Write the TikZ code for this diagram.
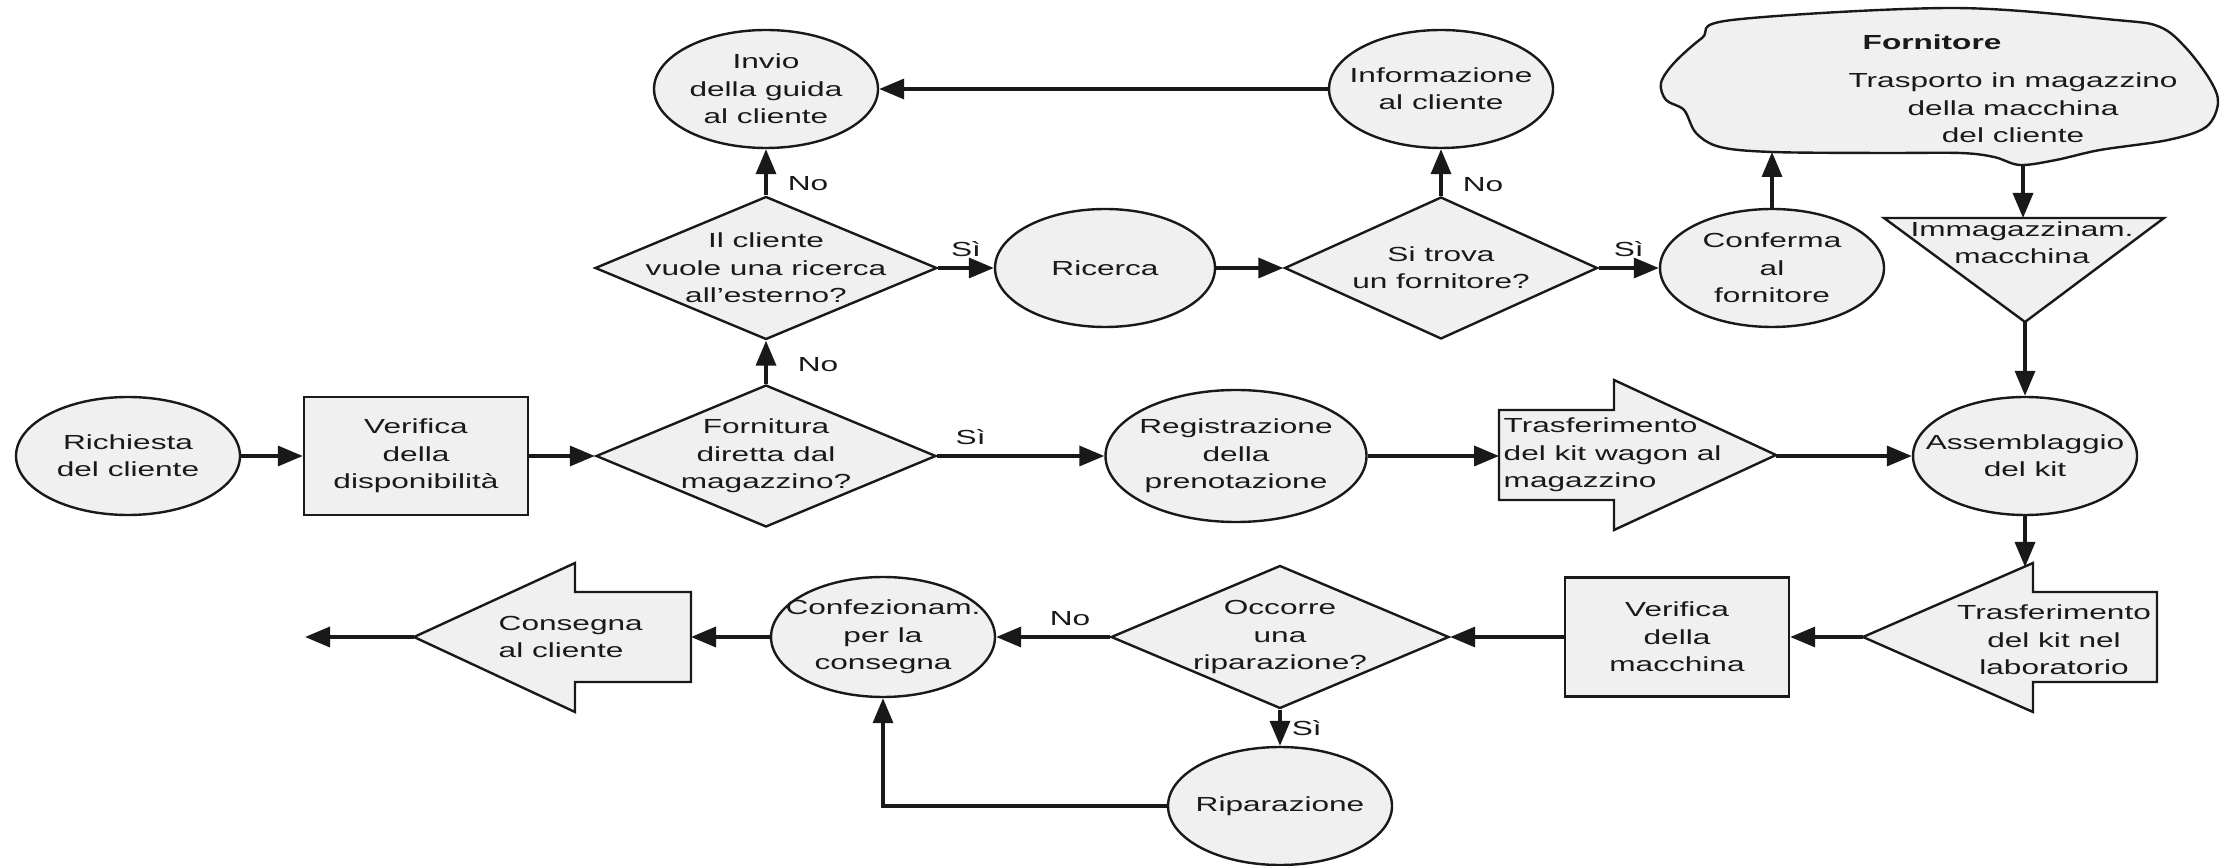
\documentclass[tikz,border=0pt]{standalone}
\usepackage{fontspec}
\setmainfont{Liberation Sans}[FakeStretch=1.55]
\usepackage{tikz}
\usetikzlibrary{arrows.meta, shapes.geometric}
\definecolor{shade}{RGB}{240,240,240}
\definecolor{ink}{RGB}{25,25,25}

\begin{document}
\begin{tikzpicture}[x=0.1mm, y=-0.1mm,
  txt/.style={font=\fontsize{5.8}{7.8}\selectfont, text=ink, align=center},
  every label/.style={txt},
  oval/.style={draw=ink, fill=shade, line width=0.24mm, ellipse, inner sep=0,
               minimum width=22.4mm, minimum height=11.8mm},
  box/.style={draw=ink, fill=shade, line width=0.24mm, rectangle, inner sep=0,
              minimum width=22.4mm, minimum height=11.8mm},
  test/.style={draw=ink, fill=shade, line width=0.24mm, diamond, inner sep=0,
               minimum width=34mm, minimum height=14.2mm},
  outline/.style={draw=ink, fill=shade, line width=0.24mm, line join=miter},
  arr/.style={-{Triangle[length=2.5mm, width=2mm]}, line width=0.35mm, draw=ink},
  lbl/.style={txt, inner sep=1mm}]
  \useasboundingbox (0,0) rectangle (2227,866);

  % middle row: request and check
  \node[oval, label=center:{Richiesta\\del cliente}] (req) at (128,456) {};
  \node[box, label=center:{Verifica\\della\\disponibilità}] (chk) at (416,456) {};
  \node[test, label=center:{Fornitura\\diretta dal\\magazzino?}] (dir) at (766,456) {};
  \node[oval, minimum width=26.1mm, minimum height=13.2mm,
        label=center:{Registrazione\\della\\prenotazione}] (reg) at (1236,456) {};
  \node[oval, label=center:{Assemblaggio\\del kit}] (asm) at (2025,456) {};

  % top rows: outside search
  \node[test, minimum width=34.2mm, minimum height=14.3mm,
        label=center:{Il cliente\\vuole una ricerca\\all’esterno?}] (ask) at (766,268) {};
  \node[oval, label=center:{Invio\\della guida\\al cliente}] (inv) at (766,89) {};
  \node[oval, minimum width=22mm, label=center:{Ricerca}] (ric) at (1105,268) {};
  \node[test, minimum width=31.3mm, label=center:{Si trova\\un fornitore?}] (find) at (1441,268) {};
  \node[oval, label=center:{Informazione\\al cliente}] (info) at (1441,89) {};
  \node[oval, label=center:{Conferma\\al\\fornitore}] (conf) at (1772,268) {};

  % supplier cloud and storage triangle
  \draw[outline] plot[smooth cycle, tension=0.55] coordinates {
    (1732,20) (1952,8) (2116,20) (2160,27) (2186,48) (2210,80) (2218,103)
    (2206,127) (2168,140) (2100,150) (2056,160) (2020,165) (1994,157)
    (1960,153) (1880,153) (1772,152) (1720,147) (1696,133) (1684,110)
    (1666,100) (1661,83) (1674,63) (1702,38)};
  \node[txt, font=\fontsize{5.8}{7.8}\selectfont\bfseries] (sup) at (1932,42) {Fornitore};
  \node[txt] (trans) at (2013,108) {Trasporto in magazzino\\della macchina\\del cliente};
  \coordinate (sup-in) at (1772,152);
  \coordinate (sup-out) at (2023,164);
  \draw[outline] (1884,218) -- (2164,218) -- (2025,322) -- cycle;
  \node[txt] (stock) at (2022,243) {Immagazzinam.\\macchina};
  \coordinate (stock-in) at (2023,218);
  \coordinate (stock-out) at (2025,322);

  % transfer of the kit wagon
  \draw[outline] (1499,410) -- (1614,410) -- (1614,380) -- (1776,455)
    -- (1614,530) -- (1614,500) -- (1499,500) -- cycle;
  \node[txt, align=left, anchor=west, inner sep=0] (tkw) at (1503,455)
    {Trasferimento\\del kit wagon al\\magazzino};
  \coordinate (tkw-in) at (1499,456);
  \coordinate (tkw-out) at (1776,456);

  % bottom row: lab, check, repair, delivery
  \draw[outline] (2157,592) -- (2033,592) -- (2033,563) -- (1863,637)
    -- (2033,712) -- (2033,682) -- (2157,682) -- cycle;
  \node[txt] (lab) at (2054,640) {Trasferimento\\del kit nel\\laboratorio};
  \coordinate (lab-in) at (2025,567);
  \coordinate (lab-out) at (1863,637);
  \node[box, minimum height=11.9mm, label=center:{Verifica\\della\\macchina}] (vm) at (1677,637) {};
  \node[test, minimum width=33.8mm, minimum height=14.3mm,
        label=center:{Occorre\\una\\riparazione?}] (occ) at (1280,637) {};
  \node[oval, minimum height=12mm, label=center:{Confezionam.\\per la\\consegna}] (pack) at (883,637) {};
  \node[oval, label=center:{Riparazione}] (rip) at (1280,806) {};
  \draw[outline] (691,592) -- (575,592) -- (575,563) -- (414,637)
    -- (575,712) -- (575,682) -- (691,682) -- cycle;
  \node[txt, align=left, anchor=west, inner sep=0] (dlv) at (498,637) {Consegna\\al cliente};
  \coordinate (dlv-in) at (691,637);
  \coordinate (dlv-out) at (414,637);
  \coordinate (dlv-end) at (305,637);

  % connectors
  \draw[arr] (req) -- (chk);
  \draw[arr] (chk) -- (dir);
  \draw[arr] (dir) -- node[lbl, pos=0.2, above] {Sì} (reg);
  \draw[arr] (dir) -- node[lbl, pos=0.45, right, xshift=2mm] {No} (ask);
  \draw[arr] (ask) -- node[lbl, pos=0.25, right, xshift=1mm] {No} (inv);
  \draw[arr] (ask) -- node[lbl, above] {Sì} (ric);
  \draw[arr] (ric) -- (find);
  \draw[arr] (find) -- node[lbl, pos=0.25, right, xshift=1mm] {No} (info);
  \draw[arr] (info) -- (inv);
  \draw[arr] (find) -- node[lbl, above] {Sì} (conf);
  \draw[arr] (conf) -- (sup-in);
  \draw[arr] (sup-out) -- (stock-in);
  \draw[arr] (stock-out) -- (asm);
  \draw[arr] (reg) -- (tkw-in);
  \draw[arr] (tkw-out) -- (asm);
  \draw[arr] (asm) -- (lab-in);
  \draw[arr] (lab-out) -- (vm);
  \draw[arr] (vm) -- (occ);
  \draw[arr] (occ) -- node[lbl, pos=0.35, above] {No} (pack);
  \draw[arr] (occ) -- node[lbl, right] {Sì} (rip);
  \draw[arr] (rip) -| (pack);
  \draw[arr] (pack) -- (dlv-in);
  \draw[arr] (dlv-out) -- (dlv-end);
\end{tikzpicture}
\end{document}
